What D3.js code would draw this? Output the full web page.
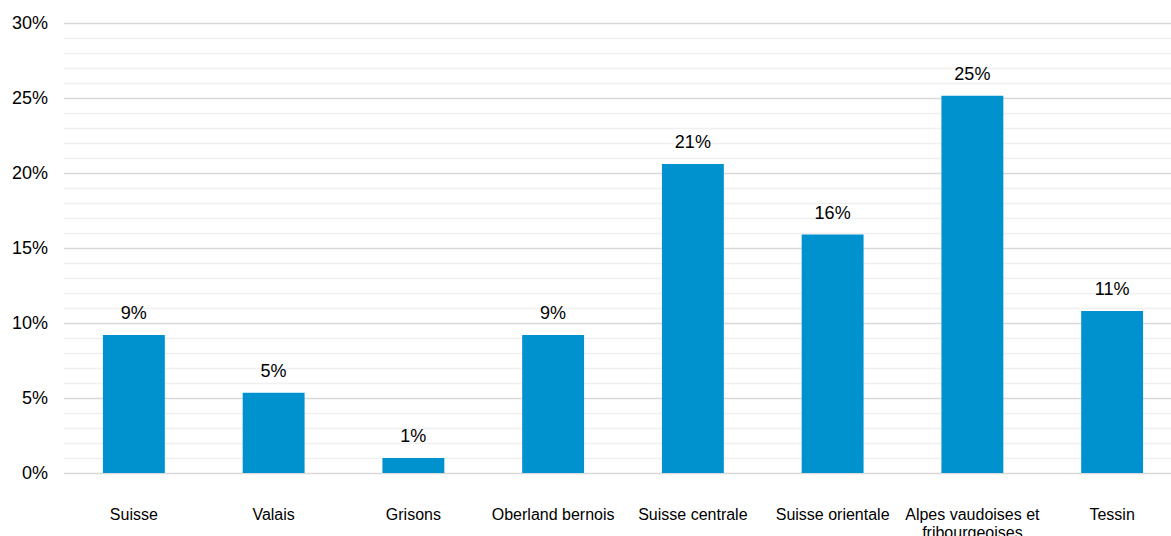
<!DOCTYPE html>
<html><head><meta charset="utf-8">
<script src="https://cdn.jsdelivr.net/npm/d3@7"></script>
<style>body{margin:0;background:#fff}svg{display:block;font-family:"Liberation Sans",Arial,sans-serif}</style>
</head><body><svg id="c" width="1171" height="536"></svg>
<script>
const categories = ["Suisse","Valais","Grisons","Oberland bernois","Suisse centrale","Suisse orientale","Alpes vaudoises et fribourgeoises","Tessin"];
const categoryLines = [["Suisse"],["Valais"],["Grisons"],["Oberland bernois"],["Suisse centrale"],["Suisse orientale"],["Alpes vaudoises et","fribourgeoises"],["Tessin"]];
const values = [9.2, 5.35, 1.0, 9.2, 20.6, 15.9, 25.15, 10.8];
const valueLabels = ["9%","5%","1%","9%","21%","16%","25%","11%"];
const yTicks = [0,5,10,15,20,25,30];
const minorTicks = d3.range(0,31,1);

const svg = d3.select("#c");
const x = d3.scaleBand().domain(categories).range([64,1182]).paddingInner(0.557).paddingOuter(0.2785);
const y = d3.scaleLinear().domain([0,30]).range([473,23]);

svg.append("g").selectAll("line").data(minorTicks.filter(d=>d%5!==0)).join("line")
  .attr("x1",64).attr("x2",1171).attr("y1",d=>y(d)+0.5).attr("y2",d=>y(d)+0.5)
  .attr("stroke","#f0f0f0").attr("stroke-width",1.5);
svg.append("g").selectAll("line").data(yTicks).join("line")
  .attr("x1",64).attr("x2",1171).attr("y1",d=>y(d)+0.5).attr("y2",d=>y(d)+0.5)
  .attr("stroke","#d9d9d9").attr("stroke-width",1.5);

const yAxis = d3.axisLeft(y).tickValues(yTicks).tickFormat(d=>d+"%").tickSize(0).tickPadding(0);
const ga = svg.append("g").attr("transform","translate(48,0)").call(yAxis);
ga.select(".domain").remove();
ga.selectAll("text").attr("font-size",18).attr("fill","#000").attr("font-family","Liberation Sans, Arial, sans-serif");

svg.append("g").selectAll("rect").data(values).join("rect")
  .attr("x",(d,i)=>x(categories[i])).attr("width",x.bandwidth())
  .attr("y",d=>y(d)).attr("height",d=>y(0)-y(d)).attr("fill","#0092cf");

svg.append("g").selectAll("text").data(values).join("text")
  .attr("x",(d,i)=>x(categories[i])+x.bandwidth()/2).attr("y",d=>y(d)-16)
  .attr("text-anchor","middle").attr("font-size",18).attr("fill","#000")
  .text((d,i)=>valueLabels[i]);

const cl = svg.append("g").selectAll("text").data(categories).join("text")
  .attr("x",d=>x(d)+x.bandwidth()/2).attr("y",520)
  .attr("text-anchor","middle").attr("font-size",16).attr("fill","#000");
cl.each(function(d,i){
  d3.select(this).selectAll("tspan").data(categoryLines[i]).join("tspan")
    .attr("x",x(d)+x.bandwidth()/2).attr("dy",(t,j)=>j===0?0:18).text(t=>t);
});
</script></body></html>
